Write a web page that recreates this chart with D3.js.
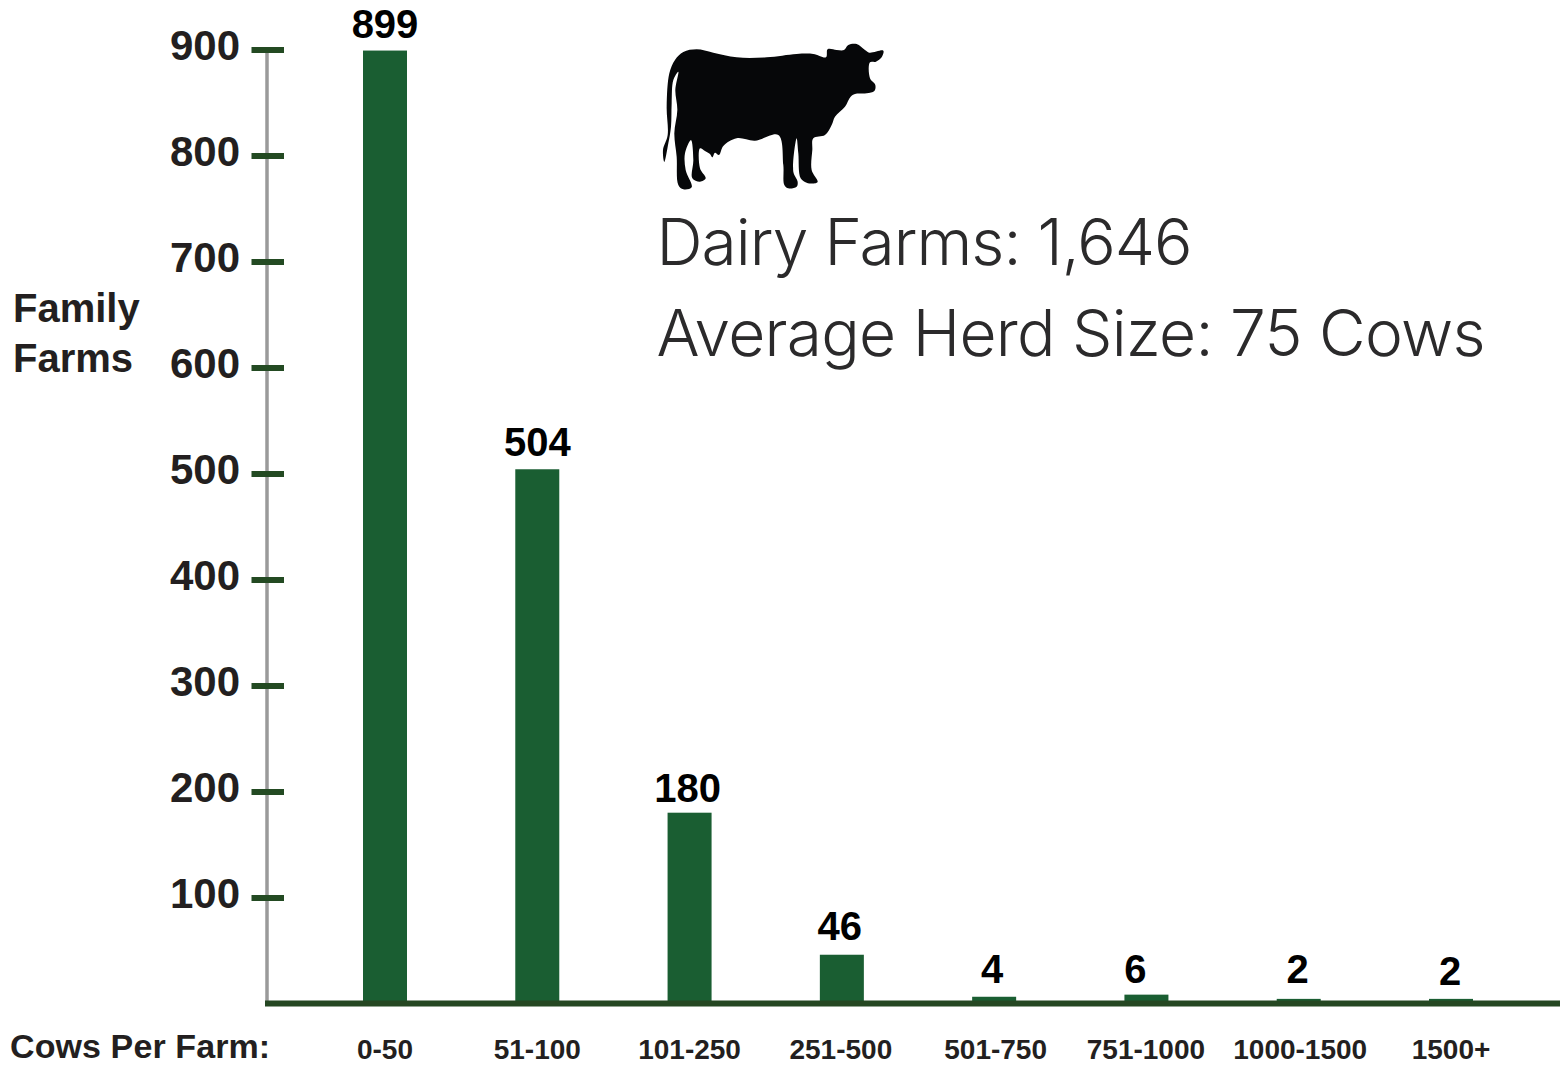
<!DOCTYPE html>
<html>
<head>
<meta charset="utf-8">
<script src="https://cdn.jsdelivr.net/npm/d3@7"></script>
<style>
  html, body { margin: 0; padding: 0; background: #fff; }
  svg { display: block; }
  text { font-family: "Liberation Sans", Arial, sans-serif; font-weight: bold; }
  .note { font-family: Inter, sans-serif; font-weight: 300; fill: #2b2a2b; }
</style>
</head>
<body>
<div id="chart"></div>
<script>
const categories = ["0-50", "51-100", "101-250", "251-500", "501-750", "751-1000", "1000-1500", "1500+"];
const farms = [899, 504, 180, 46, 4, 6, 2, 2];
const yTicks = [100, 200, 300, 400, 500, 600, 700, 800, 900];
const notes = ["Dairy Farms: 1,646", "Average Herd Size: 75 Cows"];

// silhouette, units are 3x pixels
const cowOutline = [
  [73,396],[69,360],[83,315],[80,230],[88,130],[105,90],[130,66],[170,58],[220,68],[290,82],[380,82],
  [470,72],[520,72],[558,82],[563,58],[590,60],[612,60],[625,45],[650,42],[675,60],[688,68],[730,62],
  [725,82],[708,95],[690,97],[690,145],[706,165],[703,183],[680,190],[645,192],[632,200],[615,230],
  [585,260],[575,285],[555,315],[520,325],[517,360],[515,420],[533,455],[525,460],[500,458],[482,445],
  [475,370],[470,325],[460,425],[473,455],[470,470],[445,475],[433,465],[430,405],[415,315],[345,332],
  [290,325],[250,348],[237,375],[225,368],[217,382],[210,372],[195,363],[180,355],[180,415],[197,445],
  [180,455],[157,445],[160,390],[153,330],[135,370],[137,420],[155,472],[130,478],[115,465],[110,380],
  [103,310],[112,240],[106,180],[115,125],[100,150],[95,220],[93,290],[85,340]
];

const width = 1560, height = 1065;
const barWidth = 44;

const svg = d3.select("#chart")
  .append("svg")
  .attr("width", width)
  .attr("height", height);

const x = d3.scalePoint().domain(categories).range([385, 1451]);
const y = d3.scaleLinear().domain([0, 900]).range([1003.5, 49.5]);

// bars, the tiny ones stick out of the baseline a bit more in the original
const stub = d => d < 20 ? 2.5 : 0;
svg.selectAll("rect.bar")
  .data(farms)
  .enter()
  .append("rect")
  .attr("class", "bar")
  .attr("x", (d, i) => x(categories[i]) - barWidth / 2)
  .attr("y", d => y(d) - stub(d))
  .attr("width", barWidth)
  .attr("height", d => y(0) - y(d) + stub(d))
  .attr("fill", "#1a5e32");

// y axis
const yAxis = svg.append("g")
  .attr("transform", "translate(267,0)")
  .call(d3.axisLeft(y).tickValues(yTicks).tickSize(0));
yAxis.select(".domain").remove();
yAxis.append("line")
  .attr("y1", y(900))
  .attr("y2", y(0))
  .attr("stroke", "#9a9a9a")
  .attr("stroke-width", 3.5)
  .lower();
yAxis.selectAll(".tick line")
  .attr("x1", -15.5)
  .attr("x2", 17)
  .attr("stroke", "#234a22")
  .attr("stroke-width", 6);
yAxis.selectAll(".tick text")
  .attr("x", -27)
  .attr("dy", 9.5)
  .attr("fill", "#231f20")
  .attr("font-family", null)
  .attr("font-size", 42);

// baseline
svg.append("line")
  .attr("x1", 265)
  .attr("x2", width)
  .attr("y1", y(0))
  .attr("y2", y(0))
  .attr("stroke", "#254722")
  .attr("stroke-width", 6);

// value labels, the original ones sit a little off centre
const labelDx = [0, 0, -2, -2, -2, -11, -1, -1];
const labelDy = [-13, -13, -11, -14.5, -16, -14, -18, -16];
svg.selectAll("text.value")
  .data(farms)
  .enter()
  .append("text")
  .attr("class", "value")
  .attr("x", (d, i) => x(categories[i]) + labelDx[i])
  .attr("y", (d, i) => y(d) + labelDy[i])
  .attr("text-anchor", "middle")
  .attr("font-size", 40)
  .attr("fill", "#000")
  .text(d => d);

// category labels
const catDx = [0, 0, 0, -1, 1.5, -0.5, 1.5, 0];
svg.selectAll("text.cat")
  .data(categories)
  .enter()
  .append("text")
  .attr("class", "cat")
  .attr("x", (d, i) => x(d) + catDx[i])
  .attr("y", 1059)
  .attr("text-anchor", "middle")
  .attr("font-size", 28)
  .attr("fill", "#231f20")
  .text(d => d);

svg.append("text")
  .attr("x", 10)
  .attr("y", 1057.8)
  .attr("font-size", 34)
  .attr("letter-spacing", 0.1)
  .attr("fill", "#231f20")
  .text("Cows Per Farm:");

svg.selectAll("text.ytitle")
  .data(["Family", "Farms"])
  .enter()
  .append("text")
  .attr("class", "ytitle")
  .attr("x", 13)
  .attr("y", (d, i) => 321.5 + i * 50)
  .attr("font-size", 40)
  .attr("fill", "#231f20")
  .text(d => d);

// summary text, stretched to the width of the original lines
const noteWidths = [536, 829];
svg.selectAll("text.note")
  .data(notes)
  .enter()
  .append("text")
  .attr("class", "note")
  .attr("x", 656.5)
  .attr("y", (d, i) => 265 + i * 90.7)
  .attr("font-size", 64)
  .attr("textLength", (d, i) => noteWidths[i])
  .attr("lengthAdjust", "spacing")
  .text(d => d);

// cow
svg.append("path")
  .attr("transform", "translate(640,30) scale(0.3333)")
  .attr("d", d3.line().curve(d3.curveCatmullRomClosed.alpha(0.5))(cowOutline))
  .attr("fill", "#060709");
</script>
</body>
</html>
